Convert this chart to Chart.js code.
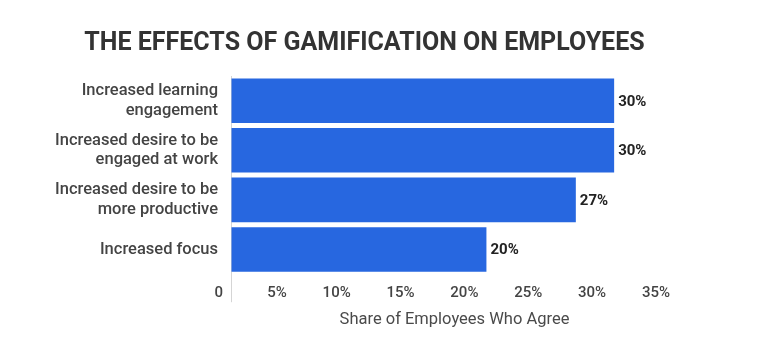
<!DOCTYPE html>
<html>
<head>
<meta charset="utf-8">
<script src="https://cdn.jsdelivr.net/npm/chart.js@4/dist/chart.umd.min.js"></script>
<style>
  html, body { margin: 0; padding: 0; background: #fff; }
  #wrap { width: 779px; height: 337px; }
</style>
</head>
<body>
<div id="wrap"><canvas id="gamificationChart"></canvas></div>
<script>
const ctx = document.getElementById("gamificationChart");

const categories = [
  ["Increased learning", "engagement"],
  ["Increased desire to be", "engaged at work"],
  ["Increased desire to be", "more productive"],
  "Increased focus"
];
const shareAgree = [30, 30, 27, 20];
const xTicks = [0, 5, 10, 15, 20, 25, 30, 35];

// percent labels at the end of each bar
const barLabels = {
  id: "barLabels",
  afterDatasetsDraw(chart) {
    const c = chart.ctx;
    const meta = chart.getDatasetMeta(0);
    c.save();
    c.font = "bold 15px Roboto";
    c.fillStyle = "#222";
    c.textAlign = "left";
    c.textBaseline = "middle";
    meta.data.forEach((bar, i) => {
      c.fillText(shareAgree[i] + "%", bar.x + 4, bar.y + 1);
    });
    c.restore();
  }
};

new Chart(ctx, {
  type: "bar",
  data: {
    labels: categories,
    datasets: [
      {
        label: "Share of Employees Who Agree",
        data: shareAgree,
        backgroundColor: "#2767e0",
        borderWidth: 0,
        barPercentage: 0.9,
        categoryPercentage: 1
      }
    ]
  },
  options: {
    indexAxis: "y",
    responsive: true,
    maintainAspectRatio: false,
    animation: false,
    layout: { padding: { top: 0, right: 50, bottom: 0, left: 0 } },
    plugins: {
      legend: { display: false },
      tooltip: { enabled: false },
      title: {
        display: true,
        text: "THE EFFECTS OF GAMIFICATION ON EMPLOYEES",
        color: "#333",
        font: { family: "Roboto", size: 25, weight: "bold" },
        padding: { top: 29, bottom: 17 }
      }
    },
    scales: {
      x: {
        type: "linear",
        min: 0,
        max: 35,
        afterBuildTicks: (scale) => {
          scale.ticks = xTicks.map((v) => ({ value: v }));
        },
        border: { display: false },
        grid: {
          color: (c) => (c.tick && c.tick.value === 0 ? "#d5d5d5" : "transparent"),
          tickLength: 28,
          drawTicks: true
        },
        ticks: {
          align: "end",
          labelOffset: -8,
          padding: -18,
          color: "#444",
          font: { family: "Roboto", size: 15, weight: "500" },
          callback: (v) => (v === 0 ? "0" : v + "%")
        },
        title: {
          display: true,
          text: "Share of Employees Who Agree",
          color: "#4a4a4a",
          font: { family: "Roboto", size: 16.5 },
          padding: { top: 26, bottom: 7 }
        }
      },
      y: {
        grid: { display: false, drawTicks: false },
        border: { display: false },
        ticks: {
          color: "#444",
          padding: 13,
          font: { family: "Roboto", size: 16.5, weight: "500", lineHeight: 1.2 }
        },
        afterFit: (scale) => {
          scale.width = 231;
        }
      },
      pad: {
        type: "linear",
        position: "right",
        display: true,
        grid: { display: false },
        border: { display: false },
        ticks: { display: false },
        afterFit: (scale) => {
          scale.width = 51;
        }
      }
    }
  },
  plugins: [barLabels]
});
</script>
</body>
</html>
